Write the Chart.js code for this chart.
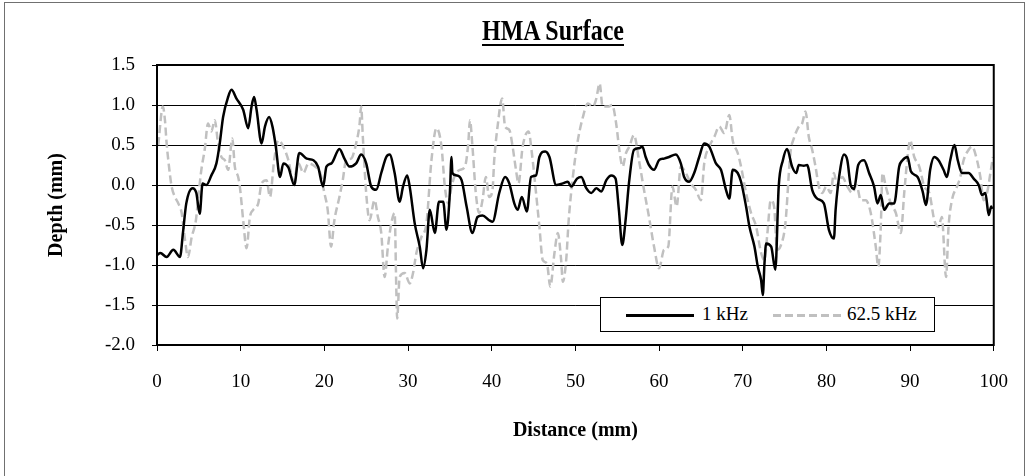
<!DOCTYPE html>
<html>

<head>
    <script src="https://cdn.jsdelivr.net/npm/chart.js"></script>
    <style>
        body {
            margin: 0;
            background-color: white;
            font-family: "Liberation Serif", serif;
        }
        .wrap {
            position: relative;
            width: 1028px;
            height: 476px;
            overflow: hidden;
        }
        /* grey outer frame, its bottom edge runs off the page */
        .frame {
            position: absolute;
            left: 4px;
            top: 2px;
            width: 1019px;
            height: 520px;
            border: 1px solid #707070;
        }
        #myChart {
            position: absolute;
            left: 0;
            top: 0;
        }
        .chart-title {
            position: absolute;
            left: 553px;
            top: 15px;
            font: bold 30px "Liberation Serif", serif;
            line-height: 30px;
            white-space: nowrap;
            text-decoration: underline;
            text-decoration-thickness: 2px;
            text-underline-offset: 4px;
            transform: translateX(-50%) scaleX(0.8);
        }
        .legend-box {
            position: absolute;
            left: 600px;
            top: 297px;
            width: 335px;
            height: 35px;
            box-sizing: border-box;
            border: 1px solid #000;
            background: white;
            font-size: 19px;
        }
        .legend-line {
            position: absolute;
            top: 16px;
            height: 3px;
        }
        .legend-label {
            position: absolute;
            top: 5px;
            line-height: 22px;
            white-space: nowrap;
        }
    </style>
</head>

<body>
    <div class="wrap">
        <div class="frame"></div>
        <canvas id="myChart" width="1028" height="476"></canvas>
        <div class="chart-title">HMA Surface</div>
        <div class="legend-box">
            <div class="legend-line" style="left: 25px; width: 68px; background: #000;"></div>
            <span class="legend-label" style="left: 101px;">1 kHz</span>
            <div class="legend-line" style="left: 172px; width: 70px; background: repeating-linear-gradient(to right, #c0c0c0 0 8px, transparent 8px 12px);"></div>
            <span class="legend-label" style="left: 246px;">62.5 kHz</span>
        </div>
    </div>

    <script>
        // 1 kHz profile (distance mm, depth mm)
        const khz1X = [0, 0.4, 1.15, 1.95, 2.75, 3.1, 3.5, 4.25, 4.7, 5.1, 5.45, 5.9, 6.5, 7.1, 7.5, 7.9, 8.5, 8.9, 9.5, 10.3,
            10.9, 11.3, 11.6, 11.9, 12.5, 12.9, 13.4, 13.8, 14.2, 14.7, 15.1, 15.7, 16.4, 17.0, 17.9, 18.7, 19.25, 19.85, 20.25, 20.85,
            21.8, 22.4, 23.0, 23.8, 24.4, 25.0, 25.6, 26.2, 26.8, 27.4, 27.8, 28.4, 29.0, 29.4, 29.9, 30.2, 30.8, 31.4, 31.8, 32.2,
            32.6, 33.2, 33.7, 34.2, 34.6, 35.0, 35.2, 35.3, 35.8, 36.4, 37.0, 37.7, 38.3, 38.9, 39.7, 40.1, 40.9, 41.6, 42.1, 42.7,
            43.1, 43.6, 44.2, 44.7, 45.3, 45.7, 46.4, 46.9, 47.7, 48.5, 49.1, 49.5, 50.2, 50.7, 51.3, 51.9, 52.5, 53.1, 53.7, 54.3,
            54.8, 55.2, 55.6, 56.0, 56.4, 57.0, 57.6, 58.0, 58.4, 58.8, 59.4, 60.0, 60.6, 61.2, 62.0, 62.6, 63.0, 63.6, 64.2, 64.8,
            65.4, 66.0, 66.8, 67.4, 68.0, 68.4, 68.8, 69.4, 69.8, 70.4, 70.8, 71.4, 71.8, 72.2, 72.4, 72.6, 72.8, 73.4, 73.9, 74.3,
            74.8, 75.3, 75.9, 76.4, 76.7, 77.3, 77.7, 78.3, 78.9, 79.7, 80.3, 80.9, 81.1, 81.7, 82.1, 82.5, 82.9, 83.3, 83.8, 84.5,
            85.1, 85.7, 86.1, 86.5, 86.9, 87.5, 88.1, 88.7, 89.1, 89.7, 90.1, 90.9, 91.5, 91.9, 92.4, 92.9, 93.4, 94.0, 94.4, 94.8,
            95.3, 95.7, 96.2, 97.0, 97.6, 98.2, 98.6, 99.0, 99.4, 99.7, 99.8];
        const khz1Y = [-0.875, -0.85, -0.9, -0.81, -0.9, -0.6, -0.23, -0.04, -0.1, -0.36, 0.02, 0.0, 0.12, 0.27, 0.52, 0.85, 1.1, 1.19, 1.08, 0.94,
            0.71, 0.98, 1.1, 0.94, 0.52, 0.73, 0.85, 0.73, 0.48, 0.1, 0.27, 0.22, 0.0, 0.4, 0.33, 0.31, 0.23, -0.02, 0.23, 0.27,
            0.45, 0.33, 0.23, 0.27, 0.38, 0.27, -0.02, -0.06, 0.15, 0.35, 0.38, 0.15, -0.21, -0.02, 0.12, -0.02, -0.48, -0.77, -1.04, -0.81,
            -0.31, -0.6, -0.21, -0.21, -0.56, -0.1, 0.35, 0.15, 0.12, 0.06, -0.27, -0.6, -0.4, -0.38, -0.44, -0.46, -0.1, 0.1, 0.02, -0.23,
            -0.31, -0.15, -0.33, 0.1, 0.12, 0.35, 0.42, 0.35, 0.0, 0.02, 0.04, -0.02, 0.08, 0.1, -0.04, -0.1, -0.04, -0.08, 0.06, 0.12,
            0.08, -0.31, -0.75, -0.44, 0.02, 0.44, 0.46, 0.48, 0.35, 0.25, 0.19, 0.31, 0.33, 0.35, 0.38, 0.27, 0.1, 0.04, 0.15, 0.35,
            0.52, 0.48, 0.27, 0.19, -0.06, -0.17, 0.19, 0.15, 0.04, -0.27, -0.52, -0.77, -1.02, -1.19, -1.375, -0.98, -0.73, -0.77, -1.06, -0.02,
            0.31, 0.45, 0.23, 0.15, 0.25, 0.24, 0.25, -0.06, -0.17, -0.23, -0.56, -0.67, -0.31, 0.23, 0.38, 0.31, 0.0, -0.05, 0.25, 0.31,
            0.15, -0.02, -0.23, -0.125, -0.31, -0.23, -0.23, 0.23, 0.31, 0.35, 0.17, 0.1, -0.08, -0.25, 0.19, 0.35, 0.31, 0.19, 0.1, 0.31,
            0.5, 0.31, 0.15, 0.15, 0.08, 0.0, -0.125, -0.1, -0.375, -0.27, -0.3];

        // 62.5 kHz profile
        const khz62X = [0.15, 0.7, 0.95, 1.15, 1.35, 1.75, 2.15, 2.55, 2.95, 3.35, 3.7, 4.15, 4.65, 4.9, 5.3, 5.7, 6.1, 6.5, 6.9, 7.3,
            7.7, 8.1, 8.5, 9.0, 9.3, 9.7, 9.9, 10.3, 10.7, 11.1, 11.5, 12.1, 12.5, 13.1, 13.5, 14.0, 14.5, 15.1, 15.7, 16.3,
            16.9, 17.5, 18.1, 18.9, 19.5, 20.0, 20.4, 20.8, 21.2, 21.8, 22.2, 22.6, 23.2, 23.8, 24.2, 24.4, 24.6, 25.0, 25.4, 26.0,
            26.4, 26.8, 27.2, 27.6, 28.0, 28.4, 28.6, 28.7, 29.0, 29.6, 30.2, 30.6, 31.0, 31.6, 32.2, 32.8, 33.4, 34.0, 34.4, 34.8,
            35.2, 35.6, 36.2, 36.8, 37.2, 37.4, 37.7, 38.1, 38.5, 38.9, 39.3, 39.7, 40.1, 40.3, 40.7, 41.25, 41.6, 42.1, 42.5, 42.9,
            43.2, 43.7, 44.4, 44.8, 45.3, 45.7, 46.1, 46.6, 47.0, 47.5, 47.9, 48.3, 48.5, 48.9, 49.2, 49.7, 50.2, 50.9, 51.5, 52.1,
            52.5, 52.9, 53.25, 53.9, 54.4, 54.9, 55.25, 55.65, 56.05, 56.45, 57.0, 57.6, 58.2, 58.8, 59.4, 60.0, 60.6, 61.1, 61.6, 62.1,
            62.6, 63.2, 63.8, 64.4, 65.0, 65.4, 66.0, 66.6, 67.2, 67.8, 68.4, 68.8, 69.4, 69.8, 70.4, 71.0, 71.6, 72.2, 72.6, 72.95,
            73.35, 73.75, 74.1, 74.5, 75.1, 75.7, 76.1, 76.7, 77.1, 77.5, 77.9, 78.3, 78.7, 79.1, 79.5, 80.0, 80.5, 80.9, 81.3, 81.9,
            82.5, 83.1, 83.6, 84.1, 84.7, 85.3, 85.9, 86.2, 86.5, 86.7, 87.1, 87.7, 88.3, 88.9, 89.3, 89.7, 90.0, 90.5, 91.1, 91.7,
            92.3, 92.9, 93.4, 93.8, 94.3, 94.6, 95.0, 95.6, 96.0, 96.4, 97.0, 97.4, 98.0, 98.4, 98.8, 99.2, 99.6, 99.9];
        const khz62Y = [0.5, 0.98, 0.81, 0.52, 0.31, -0.02, -0.15, -0.23, -0.35, -0.69, -0.9, -0.65, -0.44, -0.19, 0.19, 0.44, 0.77, 0.67, 0.81, 0.52,
            0.35, 0.31, 0.19, 0.58, 0.23, 0.1, -0.02, -0.44, -0.79, -0.4, -0.31, -0.23, 0.02, 0.06, -0.15, 0.31, 0.56, 0.48, 0.31, 0.05,
            0.27, 0.15, 0.27, 0.23, 0.15, -0.1, -0.31, -0.77, -0.44, -0.15, 0.06, 0.31, 0.33, 0.52, 0.75, 0.98, 0.6, -0.1, -0.44, -0.19,
            -0.4, -0.6, -1.15, -0.77, -0.48, -0.35, -1.31, -1.67, -1.15, -1.1, -1.23, -1.1, -0.85, -0.65, -0.48, 0.31, 0.71, 0.48, -0.02, -0.23,
            -0.02, 0.12, 0.19, 0.23, 0.52, 0.81, 0.48, -0.1, -0.35, -0.19, 0.1, -0.15, -0.06, 0.31, 0.73, 1.08, 0.73, 0.69, 0.48, 0.19,
            0.02, 0.48, 0.67, 0.4, -0.1, -0.52, -0.94, -0.98, -1.27, -0.85, -0.6, -0.94, -1.21, -0.94, -0.44, 0.1, 0.5, 0.85, 1.02, 0.98,
            1.08, 1.27, 0.98, 0.98, 1.0, 0.75, 0.44, 0.23, 0.4, 0.48, 0.625, 0.31, -0.06, -0.4, -0.77, -1.04, -0.81, -0.77, -0.02, -0.27,
            0.23, 0.15, 0.02, -0.06, -0.19, 0.27, 0.48, 0.6, 0.73, 0.65, 0.875, 0.56, 0.4, 0.23, -0.1, -0.35, -0.52, -0.85, -0.94, -0.6,
            -0.19, -0.27, -0.81, -0.77, -0.48, 0.4, 0.58, 0.73, 0.77, 0.92, 0.6, 0.44, 0.23, -0.02, -0.1, -0.02, -0.1, 0.15, -0.02, 0.1,
            -0.02, -0.1, 0.0, -0.19, -0.19, -0.35, -0.77, -1.02, -0.52, 0.15, -0.02, -0.23, -0.35, -0.6, -0.1, 0.35, 0.56, 0.35, 0.23, -0.02,
            -0.1, -0.44, -0.52, -0.4, -1.15, -0.52, -0.19, -0.02, 0.1, 0.31, 0.44, 0.48, 0.31, 0.1, -0.19, -0.1, 0.15, 0.35];

        const toPoints = (xs, ys) => xs.map((x, i) => ({ x: x, y: ys[i] }));

        const serif = '"Liberation Serif", "Times New Roman", serif';

        // black frame round the plot area (top and right sides too)
        const plotFrame = {
            id: 'plotFrame',
            afterDraw(chart) {
                const a = chart.chartArea;
                const ctx = chart.ctx;
                ctx.save();
                ctx.strokeStyle = '#000';
                ctx.lineWidth = 2;
                ctx.strokeRect(a.left, a.top, a.right - a.left, a.bottom - a.top);
                ctx.restore();
            }
        };

        const chart = new Chart("myChart", {
            type: "line",
            data: {
                datasets: [{
                    label: '1 kHz',
                    data: toPoints(khz1X, khz1Y),
                    borderColor: "#000",
                    borderWidth: 2.5,
                    pointRadius: 0,
                    cubicInterpolationMode: 'monotone',
                    fill: false,
                }, {
                    label: '62.5 kHz',
                    data: toPoints(khz62X, khz62Y),
                    borderColor: "#c0c0c0",
                    borderWidth: 2.5,
                    borderDash: [8, 4],
                    pointRadius: 0,
                    cubicInterpolationMode: 'monotone',
                    fill: false,
                }]
            },
            options: {
                responsive: false,
                animation: false,
                layout: {
                    padding: { top: 65, right: 33, left: 0, bottom: 0 }
                },
                plugins: {
                    legend: { display: false },
                    title: { display: false },
                    tooltip: { enabled: false },
                },
                scales: {
                    x: {
                        type: 'linear',
                        min: 0,
                        max: 100,
                        ticks: {
                            stepSize: 10,
                            padding: 20,
                            color: '#000',
                            font: { family: serif, size: 19 },
                        },
                        grid: {
                            drawOnChartArea: false,
                            tickLength: 6,
                            color: '#000',
                        },
                        border: { color: '#000', width: 2 },
                        title: {
                            display: true,
                            text: 'Distance (mm)',
                            color: '#000',
                            font: { family: serif, size: 20, weight: 'bold' },
                            padding: { top: 0, bottom: 33 },
                        },
                        afterFit: (scale) => { scale.height = 131; },
                    },
                    y: {
                        min: -2,
                        max: 1.5,
                        ticks: {
                            stepSize: 0.5,
                            padding: 17,
                            color: '#000',
                            font: { family: serif, size: 19 },
                            callback: (v) => Number(v).toFixed(1),
                        },
                        grid: {
                            color: '#000',
                            tickLength: 5,
                        },
                        border: { color: '#000', width: 2 },
                        title: {
                            display: true,
                            text: 'Depth (mm)',
                            color: '#000',
                            font: { family: serif, size: 20, weight: 'bold' },
                            padding: { top: 45, bottom: 0 },
                        },
                        afterFit: (scale) => { scale.width = 157; },
                    }
                }
            },
            plugins: [plotFrame]
        });
    </script>
</body>
</html>
